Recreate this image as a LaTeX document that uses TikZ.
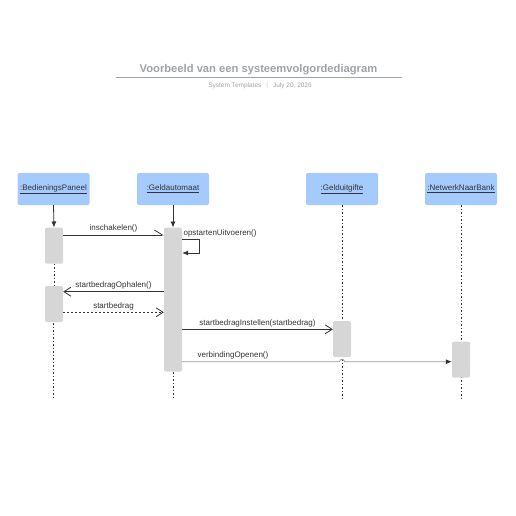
\documentclass[tikz,border=0pt]{standalone}
\usepackage{fontspec}
\setmainfont{Liberation Sans}
\usetikzlibrary{arrows.meta}
\definecolor{kopblauw}{HTML}{A5CAFE}
\definecolor{balkgrijs}{HTML}{D6D6D6}
\definecolor{titelgrijs}{HTML}{9EA3AB}
\definecolor{lijn}{HTML}{333333}
\definecolor{lichtlijn}{HTML}{999999}
\tikzset{
  object/.style={fill=kopblauw,rounded corners=2pt,minimum width=72pt,minimum height=32pt,inner sep=0pt},
  balk/.style={fill=balkgrijs,rounded corners=2pt,minimum width=18pt,inner sep=0pt},
  levenslijn/.style={lijn,line width=0.8pt,dash pattern=on 1.5pt off 2pt},
  aanroep/.style={lijn,line width=0.8pt,-{Straight Barb[length=7pt,width=9pt]}},
  halfpijl/.style={lijn,line width=0.8pt,-{Straight Barb[harpoon,length=8pt,width=10pt]}},
  antwoord/.style={aanroep,dash pattern=on 2pt off 2pt},
  vol/.style={lijn,line width=0.8pt,-{Latex[length=6pt,width=5pt]}},
  label/.style={inner sep=2pt,text=lijn}
}
\begin{document}
\begin{tikzpicture}[x=1pt,y=-1pt,font=\fontsize{8}{9.6}\selectfont,text=lijn]
\useasboundingbox (0,0) rectangle (516,516);
%
% titel
\node[font=\bfseries\fontsize{11.2}{13}\selectfont,text=titelgrijs] (titel) at (258.5,70) {Voorbeeld van een systeemvolgordediagram};
\coordinate (t1) at (116,77.5);
\coordinate (t2) at (402,77.5);
\draw[titelgrijs,line width=1pt] (t1) -- (t2);
\node[font=\fontsize{6.5}{8}\selectfont,text=titelgrijs] (sub) at (260,85.5) {System Templates\hspace{5pt}{\color{titelgrijs!60}|}\hspace{5pt}July 20, 2026};
%
% objecten
\node[object] (bp) at (53.5,189) {\underline{:BedieningsPaneel}};
\node[object] (ga) at (173,189) {\underline{:Geldautomaat}};
\node[object] (gu) at (342,189) {\underline{:Gelduitgifte}};
\node[object] (nb) at (461,189) {\underline{:NetwerkNaarBank}};
%
% hoogtes van de berichten
\coordinate (y1) at (0,235);
\coordinate (y2) at (0,239);
\coordinate (y3) at (0,253);
\coordinate (y4) at (0,291.7);
\coordinate (y5) at (0,312.3);
\coordinate (y6) at (0,329.3);
\coordinate (y7) at (0,361.7);
\coordinate (eind) at (0,400);
\coordinate (hop) at (339.5,0);
%
% levenslijnen
\draw[levenslijn] (gu.south) -- (gu.south |- eind);
\draw[levenslijn] (nb.south) -- (nb.south |- eind);
\draw[levenslijn] (bp.south |- y4) -- (bp.south |- eind);
\draw[levenslijn] (ga.south |- y4) -- (ga.south |- eind);
%
% activatiebalken
\node[balk,minimum height=36pt] (bp1) at (54,245.7) {};
\node[balk,minimum height=36pt] (bp2) at (54,304) {};
\node[balk,minimum height=144pt] (ga1) at (173,299.7) {};
\node[balk,minimum height=36pt] (gu1) at (342,339) {};
\node[balk,minimum height=36pt] (nb1) at (461,359.7) {};
\draw[levenslijn] (bp1.south) -- (bp2.north);
%
% berichten
\draw[vol] (bp.south) to (bp1.north);
\draw[vol] (ga.south) to (ga1.north);
\draw[halfpijl] (bp1.east |- y1) to node[label,above] {inschakelen()} (ga1.west |- y1);
\draw[vol] (ga1.east |- y2) node[label,anchor=south west,inner sep=1pt] {opstartenUitvoeren()} -- ++(17,0) -- ++(0,14) -- (ga1.east |- y3);
\draw[aanroep] (ga1.west |- y4) to node[label,above] {startbedragOphalen()} (bp2.east |- y4);
\draw[antwoord] (bp2.east |- y5) to node[label,above] {startbedrag} (ga1.west |- y5);
\draw[aanroep] (ga1.east |- y6) to node[label,above] {startbedragInstellen(startbedrag)} (gu1.west |- y6);
\draw[lichtlijn,line width=0.8pt,-{Latex[length=6pt,width=5pt,color=lijn]}] (ga1.east |- y7) node[label,anchor=south west,xshift=13pt] {verbindingOpenen()} -- (hop |- y7) arc[start angle=180,end angle=0,radius=2.5pt] -- (nb1.west |- y7);
%
\end{tikzpicture}
\end{document}
